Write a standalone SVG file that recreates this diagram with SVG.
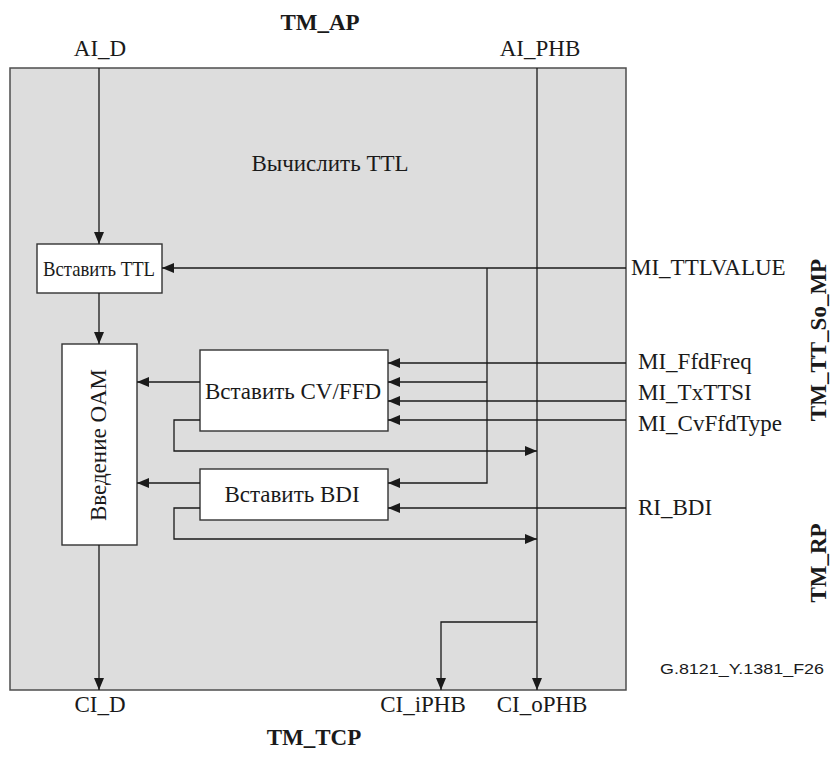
<svg xmlns="http://www.w3.org/2000/svg" width="830" height="760" viewBox="0 0 830 760">
<style>
  text { font-family: "Liberation Serif", "Times New Roman", serif; font-size: 23px; fill: #1a1a1a; }
  .b { font-weight: bold; }
  .c { text-anchor: middle; }
  .sans { font-family: "Liberation Sans", Arial, sans-serif; font-size: 15px; }
  .blk { fill: #ffffff; stroke: #333333; stroke-width: 1.4; }
  .ln { fill: none; stroke: #1a1a1a; stroke-width: 1.3; }
  .arr { marker-end: url(#ah); }
</style>
<defs>
  <marker id="ah" markerWidth="12" markerHeight="10" refX="12" refY="5" orient="auto" markerUnits="userSpaceOnUse">
    <path d="M0,0 L12,5 L0,10 Z" fill="#1a1a1a"/>
  </marker>
</defs>
<rect width="830" height="760" fill="#ffffff"/>
<g id="frame">
  <rect x="10" y="68" width="616" height="622" fill="#dddddd" stroke="#4d4d4d" stroke-width="1.5"/>
  <text class="c" x="330" y="171">Вычислить TTL</text>
</g>
<g id="labels">
  <text class="b c" x="320" y="30">TM_AP</text>
  <text class="c" x="100" y="56">AI_D</text>
  <text class="c" x="540" y="56">AI_PHB</text>
  <text class="c" x="100" y="712">CI_D</text>
  <text class="c" x="423" y="712">CI_iPHB</text>
  <text class="c" x="542" y="712">CI_oPHB</text>
  <text class="b c" x="314" y="745">TM_TCP</text>
  <text x="631" y="275">MI_TTLVALUE</text>
  <text x="638" y="369">MI_FfdFreq</text>
  <text x="638" y="400">MI_TxTTSI</text>
  <text x="638" y="431">MI_CvFfdType</text>
  <text x="638" y="515">RI_BDI</text>
  <text class="b c" transform="translate(826,340) rotate(-90)">TM_TT_So_MP</text>
  <text class="b c" transform="translate(826,563) rotate(-90)">TM_RP</text>
  <text class="sans" x="660" y="674" textLength="164" lengthAdjust="spacingAndGlyphs">G.8121_Y.1381_F26</text>
</g>
<g id="insert-ttl">
  <rect class="blk" x="37" y="244" width="125" height="49"/>
  <text class="c" x="99" y="276" style="font-size:21px" textLength="112" lengthAdjust="spacingAndGlyphs">Вставить TTL</text>
</g>
<g id="oam">
  <rect class="blk" x="62" y="344" width="75" height="201"/>
  <text class="c" transform="translate(106,445) rotate(-90)">Введение OAM</text>
</g>
<g id="insert-cvffd">
  <rect class="blk" x="200" y="350" width="188" height="81"/>
  <text class="c" x="293" y="399">Вставить CV/FFD</text>
</g>
<g id="insert-bdi">
  <rect class="blk" x="200" y="469" width="188" height="51"/>
  <text class="c" x="292" y="502">Вставить BDI</text>
</g>
<g id="connectors">
  <path class="ln arr" d="M99,68 V244"/>
  <path class="ln arr" d="M99,293 V344"/>
  <path class="ln arr" d="M99,545 V690"/>
  <path class="ln arr" d="M537,68 V690"/>
  <path class="ln arr" d="M537,622 H441 V690"/>
  <path class="ln arr" d="M626,268 H162"/>
  <path class="ln arr" d="M487,268 V483 H388"/>
  <path class="ln arr" d="M487,382 H388"/>
  <path class="ln arr" d="M626,363 H388"/>
  <path class="ln arr" d="M626,401 H388"/>
  <path class="ln arr" d="M626,420 H388"/>
  <path class="ln arr" d="M626,508 H388"/>
  <path class="ln arr" d="M200,382 H137"/>
  <path class="ln arr" d="M200,483 H137"/>
  <path class="ln arr" d="M200,420 H174 V451 H537"/>
  <path class="ln arr" d="M200,508 H174 V539 H537"/>
</g>
</svg>
